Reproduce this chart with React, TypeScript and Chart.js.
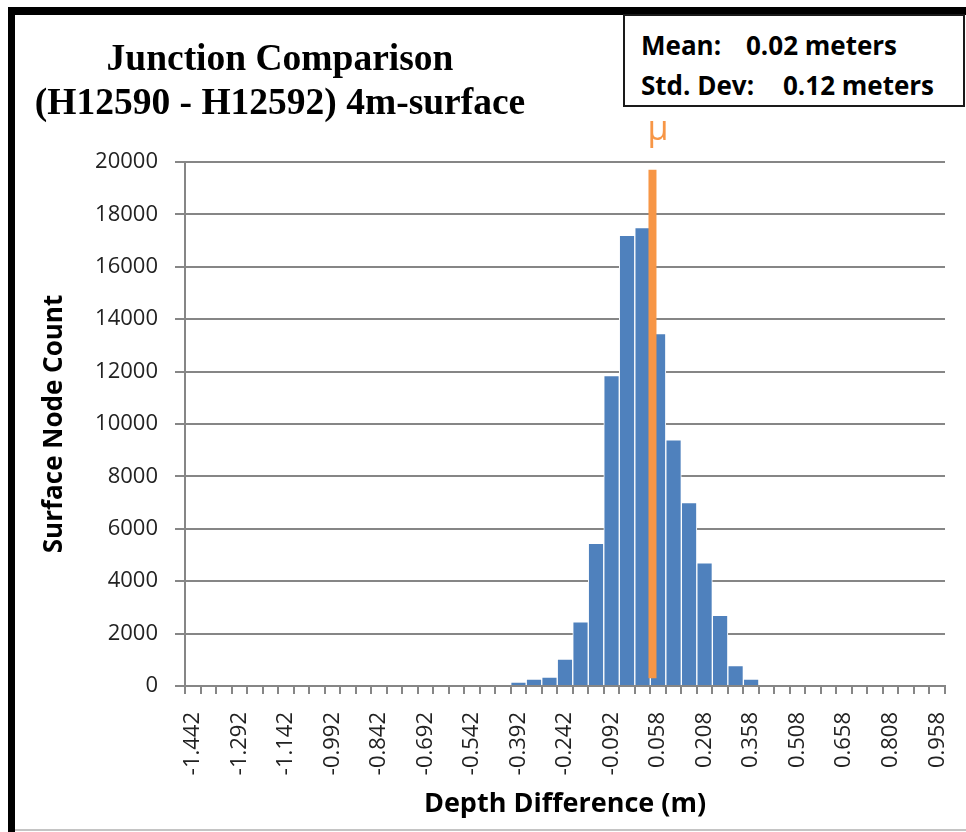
import React, { useEffect, useRef } from "react";
import { Chart, registerables } from "chart.js";

Chart.register(...registerables);

// Bin labels (depth difference, metres)
const categories: string[] = [
  "-1.442", "-1.392", "-1.342", "-1.292", "-1.242", "-1.192", "-1.142", "-1.092",
  "-1.042", "-0.992", "-0.942", "-0.892", "-0.842", "-0.792", "-0.742", "-0.692",
  "-0.642", "-0.592", "-0.542", "-0.492", "-0.442", "-0.392", "-0.342", "-0.292",
  "-0.242", "-0.192", "-0.142", "-0.092", "-0.042", "0.008", "0.058", "0.108",
  "0.158", "0.208", "0.258", "0.308", "0.358", "0.408", "0.458", "0.508",
  "0.558", "0.608", "0.658", "0.708", "0.758", "0.808", "0.858", "0.908", "0.958",
];

// Surface node counts per bin
const counts: number[] = [
  0, 0, 0, 0, 0, 0, 0, 0,
  0, 0, 0, 0, 0, 0, 0, 0,
  0, 0, 0, 0, 0, 150, 260, 340,
  1030, 2450, 5450, 11850, 17200, 17500, 13450, 9400,
  7000, 4700, 2700, 780, 260, 0, 0, 0,
  0, 0, 0, 0, 0, 0, 0, 0, 0,
];

// Tick labels that are printed on the x axis
const shownTickLabels: string[] = [
  "-1.442", "-1.292", "-1.142", "-0.992", "-0.842", "-0.692", "-0.542", "-0.392",
  "-0.242", "-0.092", "0.058", "0.208", "0.358", "0.508", "0.658", "0.808", "0.958",
];

// Y axis
const yMin = 0;
const yMax = 20000;
const yStep = 2000;

// Bin width of the histogram (m)
const binWidth = 0.05;

// Mean marker (μ line), in depth-difference units on the bin axis
const muMarkerX = 0.04;
const muMarkerBottom = 300;
const muMarkerTop = 19700;

const titleLines = ["Junction Comparison", "(H12590 - H12592) 4m-surface"];
const statsRows: [string, string][] = [
  ["Mean:", "0.02 meters"],
  ["Std. Dev:", "0.12 meters"],
];

const BLUE = "#4F81BD";
const ORANGE = "#F79646";
const GRID = "#868686";
const TICK_TEXT = "#222222";

const muMarkerPlugin = {
  id: "muMarker",
  afterDatasetsDraw(chart: any) {
    const xs = chart.scales.x;
    const ys = chart.scales.y;
    const idx = (muMarkerX - parseFloat(categories[0])) / binWidth;
    const px = xs.getPixelForValue(idx);
    const yTop = ys.getPixelForValue(muMarkerTop);
    const yBot = ys.getPixelForValue(muMarkerBottom);
    const ctx = chart.ctx;
    ctx.save();
    ctx.strokeStyle = ORANGE;
    ctx.lineWidth = 8;
    ctx.lineCap = "butt";
    ctx.beginPath();
    ctx.moveTo(px, yBot);
    ctx.lineTo(px, yTop);
    ctx.stroke();
    ctx.font = '34px "Open Sans"';
    ctx.fillStyle = ORANGE;
    ctx.textAlign = "left";
    ctx.textBaseline = "alphabetic";
    ctx.fillText("\u03bc", px - 5, yTop - 30);
    ctx.restore();
  },
};

export default function App() {
  const canvasRef = useRef<HTMLCanvasElement | null>(null);

  useEffect(() => {
    if (!canvasRef.current) return;
    const chart = new Chart(canvasRef.current, {
      type: "bar",
      data: {
        labels: categories,
        datasets: [
          {
            label: "Surface Node Count",
            data: counts,
            backgroundColor: BLUE,
            borderColor: "#ffffff",
            borderWidth: 1,
            borderSkipped: "bottom",
            barPercentage: 1,
            categoryPercentage: 1,
          } as any,
        ],
      },
      options: {
        responsive: false,
        animation: false,
        layout: { padding: { left: 10, right: 21, top: 162, bottom: 0 } },
        plugins: {
          legend: { display: false },
          tooltip: { enabled: false },
          title: { display: false },
        },
        scales: {
          x: {
            type: "category",
            offset: true,
            grid: {
              offset: true,
              drawOnChartArea: false,
              drawTicks: true,
              tickLength: 8,
              color: GRID,
              lineWidth: 2,
            },
            border: { display: true, color: GRID, width: 2 },
            ticks: {
              autoSkip: false,
              minRotation: 90,
              maxRotation: 90,
              padding: 18,
              color: TICK_TEXT,
              font: { family: '"Open Sans"', size: 22 },
              callback: (_v: any, index: number) => {
                const l = categories[index];
                return shownTickLabels.includes(l) ? l : "";
              },
            },
            title: {
              display: true,
              text: "Depth Difference (m)",
              color: "#000",
              font: { family: '"Open Sans"', size: 27, weight: "bold" },
              padding: { top: 0, bottom: 11 },
            },
            afterFit: (scale: any) => {
              scale.height = 146;
              scale.paddingLeft = 0;
              scale.paddingRight = 0;
            },
          },
          y: {
            min: yMin,
            max: yMax,
            ticks: {
              stepSize: yStep,
              padding: 17,
              color: TICK_TEXT,
              font: { family: '"Open Sans"', size: 22 },
              callback: (v: any) => String(v),
            },
            grid: {
              color: GRID,
              lineWidth: 2,
              drawTicks: true,
              tickLength: 10,
            },
            border: { display: true, color: GRID, width: 2 },
            title: {
              display: true,
              text: "Surface Node Count",
              color: "#000",
              font: { family: '"Open Sans"', size: 26, weight: "bold" },
              padding: { top: 29, bottom: 0 },
            },
            afterFit: (scale: any) => {
              scale.width = 175;
            },
          },
        } as any,
      },
      plugins: [muMarkerPlugin],
    });
    return () => chart.destroy();
  }, []);

  return (
    <div
      style={{
        position: "absolute",
        left: 0,
        top: 0,
        width: 966,
        height: 832,
        background: "#ffffff",
        overflow: "hidden",
      }}
    >
      <canvas
        ref={canvasRef}
        width={966}
        height={832}
        style={{ position: "absolute", left: 0, top: 0, width: 966, height: 832 }}
      />
      {/* frame */}
      <div style={{ position: "absolute", left: 8, top: 7, width: 958, height: 8, background: "#000" }} />
      <div style={{ position: "absolute", left: 8, top: 7, width: 7, height: 825, background: "#000" }} />
      <div style={{ position: "absolute", left: 15, top: 829, width: 951, height: 2, background: "#c4c4c4" }} />
      {/* title */}
      <div
        style={{
          position: "absolute",
          left: 0,
          top: 36,
          width: 560,
          textAlign: "center",
          fontFamily: '"Liberation Serif", serif',
          fontWeight: 700,
          fontSize: 37.5,
          lineHeight: "44px",
          color: "#000",
          whiteSpace: "nowrap",
        }}
      >
        {titleLines.map((t) => (
          <div key={t}>{t}</div>
        ))}
      </div>
      {/* stats box */}
      <div
        style={{
          position: "absolute",
          left: 623,
          top: 14,
          width: 342,
          height: 93,
          boxSizing: "border-box",
          border: "2px solid #1a1a1a",
          background: "#fff",
          fontFamily: '"Open Sans", sans-serif',
          fontWeight: 700,
          fontSize: 26,
          color: "#000",
        }}
      >
        {statsRows.map(([k, v], i) => (
          <div
            key={k}
            style={{
              position: "absolute",
              left: 16,
              top: 9 + i * 40,
              lineHeight: "40px",
              whiteSpace: "nowrap",
            }}
          >
            <span style={{ display: "inline-block", width: i === 0 ? 105 : 142 }}>{k}</span>
            <span>{v}</span>
          </div>
        ))}
      </div>
    </div>
  );
}
